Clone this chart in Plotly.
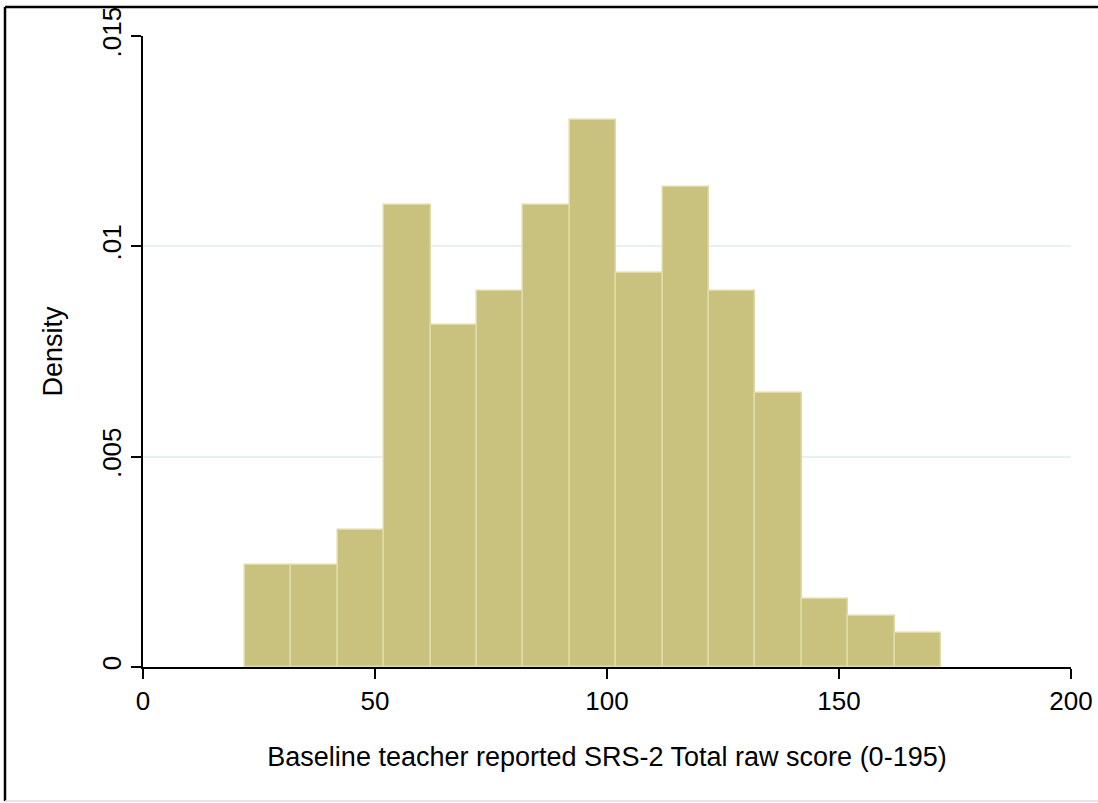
import plotly.graph_objects as go

# histogram bins (left edges, width 10) and densities
bin_left = [22, 32, 42, 52, 62, 72, 82, 92, 102, 112, 122, 132, 142, 152, 162]
bin_width = 10
density = [0.00242, 0.00242, 0.00325, 0.01098, 0.00813, 0.00894, 0.01098,
           0.01300, 0.00937, 0.01140, 0.00894, 0.00651, 0.00161, 0.00121, 0.00081]

y_ticks = [0, 0.005, 0.01, 0.015]
y_ticktext = ["0", ".005", ".01", ".015"]
x_ticks = [0, 50, 100, 150, 200]

FONT = "Liberation Sans, Arial, sans-serif"

fig = go.Figure(
    go.Bar(
        x=bin_left,
        y=density,
        width=bin_width,
        offset=0,
        marker=dict(color="#c9c27f", line=dict(color="#dfdaa8", width=1.5)),
        hoverinfo="x+y",
    )
)

fig.update_layout(
    width=1098,
    height=803,
    margin=dict(l=143, r=27, t=36, b=136),
    paper_bgcolor="white",
    plot_bgcolor="white",
    font=dict(family=FONT, size=22.5, color="black"),
    showlegend=False,
    bargap=0,
)

fig.update_xaxes(
    range=[0, 200],
    tickvals=x_ticks,
    tickfont=dict(size=26),
    automargin=False,
    showgrid=False,
    zeroline=False,
    showline=True,
    linecolor="black",
    linewidth=1.5,
    ticks="outside",
    ticklen=10,
    tickwidth=1.5,
    tickcolor="black",
    title=dict(text="Baseline teacher reported SRS-2 Total raw score (0-195)", standoff=32),
)
fig.update_yaxes(
    range=[0, 0.015],
    tickvals=y_ticks,
    ticktext=y_ticktext,
    tickangle=-90,
    tickfont=dict(size=26),
    automargin=False,
    showgrid=True,
    gridcolor="#e8f0f1",
    gridwidth=1.5,
    zeroline=False,
    showline=True,
    linecolor="black",
    linewidth=1.5,
    ticks="outside",
    ticklen=10,
    tickwidth=1.5,
    tickcolor="black",
    title=dict(text="Density", standoff=26),
)

# outer frame of the exported image (top/left black, bottom light gray)
pw = 1098 - 143 - 27
ph = 803 - 36 - 136
def px_x(v):
    return (v - 143) / pw
def px_y(v):
    return (803 - 136 - v) / ph

fig.add_shape(type="line", xref="paper", yref="paper",
              x0=px_x(5), x1=px_x(1098), y0=px_y(7), y1=px_y(7),
              line=dict(color="black", width=2.5))
fig.add_shape(type="line", xref="paper", yref="paper",
              x0=px_x(5), x1=px_x(5), y0=px_y(7), y1=px_y(801),
              line=dict(color="black", width=2.5))
fig.add_shape(type="line", xref="paper", yref="paper",
              x0=px_x(5), x1=px_x(1098), y0=px_y(801), y1=px_y(801),
              line=dict(color="#dddddd", width=1.5))

page_fix = (
    "document.documentElement.style.margin='0';"
    "document.documentElement.style.overflow='hidden';"
    "document.body.style.margin='0';"
    "document.body.style.overflow='hidden';"
)
fig.write_html("out.html", config={"displayModeBar": False}, post_script=page_fix)
